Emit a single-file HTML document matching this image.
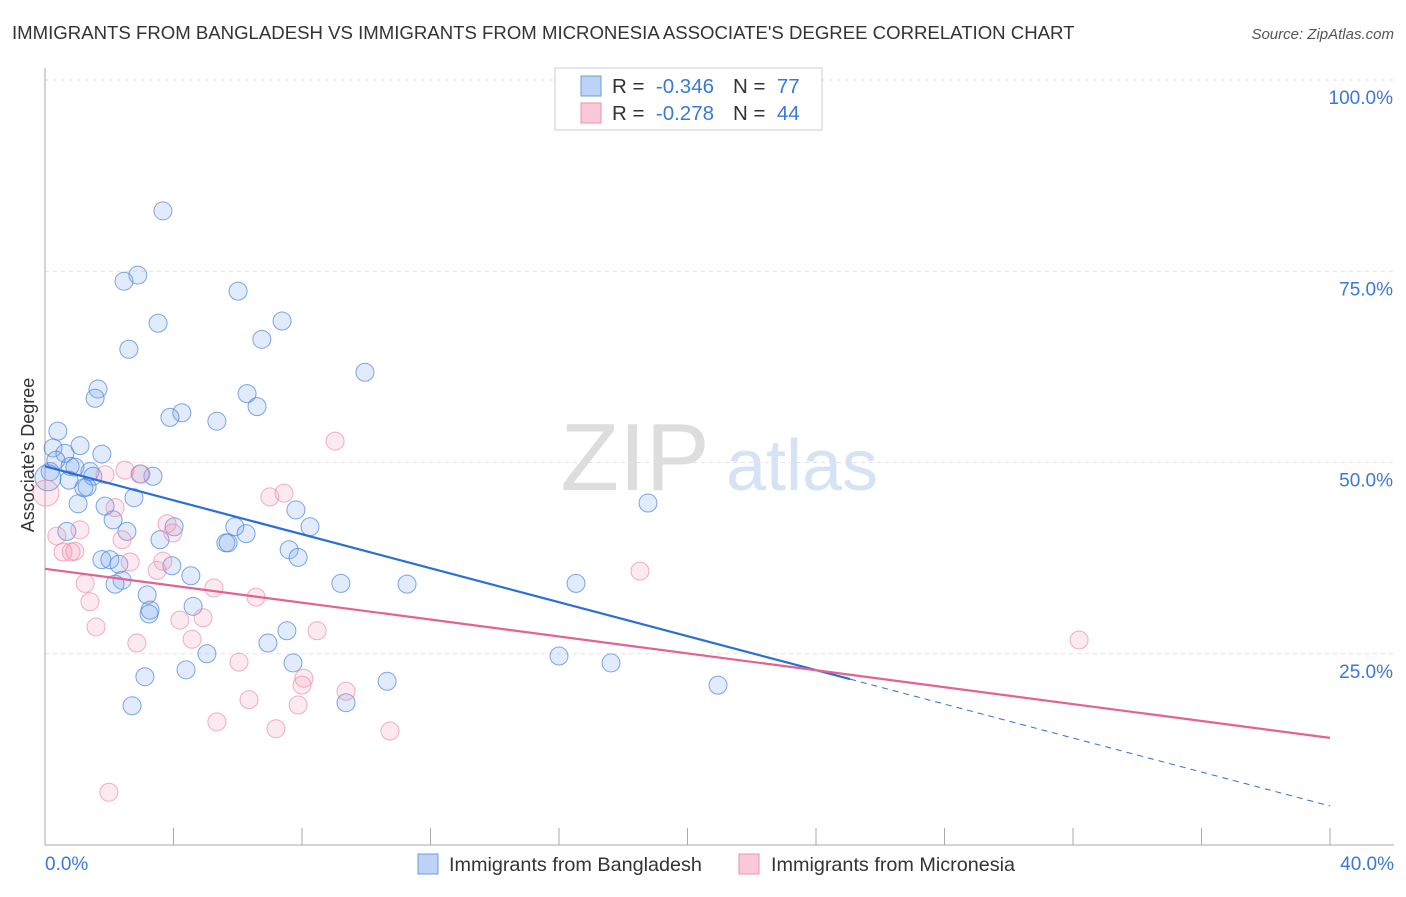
<!DOCTYPE html>
<html><head><meta charset="utf-8"><style>
body{margin:0;background:#fff;font-family:"Liberation Sans",sans-serif;}
svg text{font-family:"Liberation Sans",sans-serif;}
</style></head><body>
<svg id="chart" width="1406" height="892" viewBox="0 0 1406 892" xmlns="http://www.w3.org/2000/svg">
<text x="12" y="39" font-size="18.6" fill="#333">IMMIGRANTS FROM BANGLADESH VS IMMIGRANTS FROM MICRONESIA ASSOCIATE'S DEGREE CORRELATION CHART</text>
<text x="1394" y="39" font-size="15" fill="#555" text-anchor="end" font-style="italic">Source: ZipAtlas.com</text>
<g>
<text x="635" y="490" font-size="96" fill="#ddd" text-anchor="middle" font-family="Liberation Serif">ZIP</text>
<text x="802" y="490" font-size="72" fill="#d5e3f5" text-anchor="middle">atlas</text>
</g>
<g id="grid"></g>
<g id="axes"></g>
<g id="points"></g>
<g id="trends"></g>
<text transform="translate(34,455) rotate(-90)" font-size="18" fill="#333" text-anchor="middle">Associate's Degree</text>
<g>
<rect x="555" y="68" width="267" height="62" fill="#fff" stroke="#ccc"/>
<rect x="581" y="76" width="20" height="20" fill="#bcd3f5" stroke="#6b9be0"/>
<rect x="581" y="103" width="20" height="20" fill="#f9c9d8" stroke="#ea92b0"/>
<text x="612" y="93" font-size="20.5" fill="#333" xml:space="preserve">R =  <tspan fill="#3b78d8">-0.346</tspan></text>
<text x="733" y="93" font-size="20.5" fill="#333" xml:space="preserve">N =  <tspan fill="#3b78d8">77</tspan></text>
<text x="612" y="120" font-size="20.5" fill="#333" xml:space="preserve">R =  <tspan fill="#3b78d8">-0.278</tspan></text>
<text x="733" y="120" font-size="20.5" fill="#333" xml:space="preserve">N =  <tspan fill="#3b78d8">44</tspan></text>
</g>
<g>
<rect x="418" y="854" width="20" height="20" fill="#bcd3f5" stroke="#6b9be0"/>
<text x="449" y="871" font-size="19.8" fill="#333">Immigrants from Bangladesh</text>
<rect x="739" y="854" width="20" height="20" fill="#f9c9d8" stroke="#ea92b0"/>
<text x="771" y="871" font-size="19.8" fill="#333">Immigrants from Micronesia</text>
</g>
</svg>
<script>
const blueX=[3.67,2.89,2.46,6.01,3.52,7.38,2.61,6.75,9.96,1.65,1.56,6.29,6.60,4.26,3.89,5.35,0.40,1.09,0.25,0.62,1.77,0.34,0.78,0.93,1.40,1.49,0.16,0.09,3.36,2.96,1.31,1.21,0.75,2.77,1.03,1.87,7.81,18.77,2.12,5.91,4.02,0.68,2.55,8.25,6.26,3.58,5.63,5.70,7.60,7.88,1.77,2.02,2.30,3.95,4.54,2.40,2.18,9.21,11.27,16.53,3.18,4.61,3.27,3.24,7.53,6.94,5.04,16.00,17.62,7.72,4.39,3.11,10.65,20.95,9.37,2.71];
const blueY=[82.9,74.5,73.7,72.4,68.2,68.5,64.8,66.1,61.8,59.6,58.4,59.0,57.3,56.5,55.9,55.4,54.1,52.2,51.9,51.2,51.1,50.3,49.5,49.4,48.8,48.2,48.8,48.0,48.2,48.5,46.8,46.7,47.7,45.4,44.6,44.3,43.8,44.7,42.5,41.6,41.6,41.0,41.0,41.6,40.7,39.9,39.5,39.5,38.6,37.6,37.3,37.3,36.7,36.5,35.2,34.6,34.1,34.2,34.1,34.2,32.7,31.2,30.7,30.2,28.0,26.4,25.0,24.7,23.8,23.8,22.9,22.0,21.4,20.9,18.6,18.2];
const pinkX=[9.03,2.49,1.87,2.99,7.00,7.44,2.18,1.09,3.80,3.98,0.37,2.40,0.56,0.81,0.93,2.65,3.67,3.49,5.26,6.57,1.25,1.40,18.52,32.19,4.20,4.92,1.59,8.47,4.58,2.86,6.04,8.06,8.00,9.37,6.35,7.88,5.35,7.19,10.74,1.99,0.03];
const pinkY=[52.8,49.0,48.4,48.5,45.5,46.0,44.1,41.2,42.0,40.8,40.4,39.9,38.3,38.3,38.4,37.0,37.1,35.9,33.6,32.4,34.2,31.8,35.8,26.8,29.4,29.7,28.5,28.0,26.9,26.4,23.9,21.8,20.9,20.1,19.0,18.3,16.1,15.2,14.9,6.9,46.0];
const blueTrend=[49.5,5.1]; const blueSolidEnd=25.06;
const pinkTrend=[36.1,14.0];
const yTicks=[25,50,75,100];
const xTicks=[0,4,8,12,16,20,24,28,32,36,40];
const NS='http://www.w3.org/2000/svg';
const X=v=>45+v/40*1285, Y=v=>845-v/100*765;
function mk(parent,tag,attrs){const e=document.createElementNS(NS,tag);for(const k in attrs)e.setAttribute(k,attrs[k]);document.getElementById(parent).appendChild(e);return e;}
yTicks.forEach(t=>{
 const g=mk('grid','line',{x1:45,x2:1394,y1:Y(t),y2:Y(t),stroke:'#e2e2e2','stroke-dasharray':'4,4'});
 
 
 const l=mk('grid','text',{x:1393,y:Y(t)+24,'font-size':19,fill:'#3b78d8','text-anchor':'end'});l.textContent=t.toFixed(1)+'%';
 
 
});
const ya=mk('axes','line',{x1:45,x2:45,y1:68,y2:845,stroke:'#aaa'});


const xa=mk('axes','line',{x1:45,x2:1394,y1:845,y2:845,stroke:'#aaa'});


xTicks.forEach(t=>{const e=mk('axes','line',{x1:X(t),x2:X(t),y1:828,y2:845,stroke:'#aaa'});
 
 });
const xMinLabel=mk('axes','text',{x:45,y:870,'font-size':19,fill:'#3b78d8'});xMinLabel.textContent='0.0%';


const xMaxLabel=mk('axes','text',{x:1394,y:870,'font-size':19,fill:'#3b78d8','text-anchor':'end'});xMaxLabel.textContent='40.0%';


blueX.forEach((v,i)=>{const c=mk('points','circle',{cx:X(v),cy:Y(blueY[i]),r:(i==27?13:9),fill:'rgba(120,165,235,0.22)',stroke:'rgba(70,130,220,0.7)','stroke-width':1});
 
 });
pinkX.forEach((v,i)=>{const c=mk('points','circle',{cx:X(v),cy:Y(pinkY[i]),r:(i==40?13:9),fill:'rgba(245,150,180,0.2)',stroke:'rgba(235,130,165,0.65)','stroke-width':1});
 
 });
const bAt=x=>blueTrend[0]+(blueTrend[1]-blueTrend[0])*x/40;
const b1=mk('trends','line',{x1:X(0),y1:Y(bAt(0)),x2:X(blueSolidEnd),y2:Y(bAt(blueSolidEnd)),stroke:'#2a6fd6','stroke-width':2.2});


const b2=mk('trends','line',{x1:X(blueSolidEnd),y1:Y(bAt(blueSolidEnd)),x2:X(40),y2:Y(bAt(40)),stroke:'#2a6fd6','stroke-width':1,'stroke-dasharray':'6,5'});


const p1=mk('trends','line',{x1:X(0),y1:Y(pinkTrend[0]),x2:X(40),y2:Y(pinkTrend[1]),stroke:'#e4628e','stroke-width':2.2});


</script>
</body></html>
